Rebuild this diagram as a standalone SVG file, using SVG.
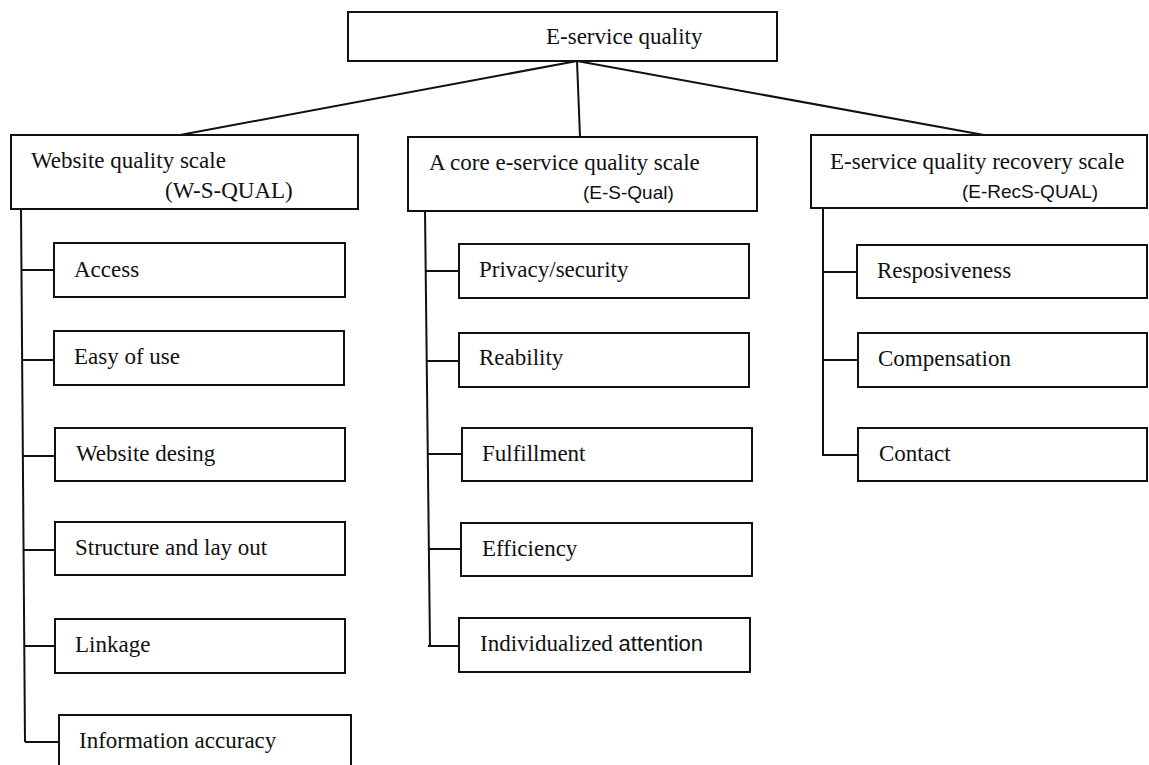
<svg xmlns="http://www.w3.org/2000/svg" width="1149" height="765" viewBox="0 0 1149 765">
  <style>
    .box { fill: #ffffff; stroke: #111111; stroke-width: 2; }
    .link { fill: none; stroke: #111111; stroke-width: 2; }
    .serif { font-family: "Liberation Serif", "Times New Roman", serif; font-size: 23px; fill: #111111; }
    .sans { font-family: "Liberation Sans", Arial, sans-serif; font-size: 19px; fill: #111111; }
    .sans.inline { font-size: 22px; }
  </style>
  <rect width="1149" height="765" fill="#ffffff"/>

  <!-- connectors -->
  <g id="connectors" class="link">
    <!-- root to the three scales -->
    <line x1="577" y1="61" x2="180" y2="135"/>
    <line x1="577" y1="61" x2="580" y2="137"/>
    <line x1="577" y1="61" x2="984" y2="135"/>
    <!-- W-S-QUAL branch -->
    <polyline points="21,209 25,742"/>
    <line x1="21" y1="270" x2="54" y2="270"/>
    <line x1="22" y1="360" x2="54" y2="360"/>
    <line x1="23" y1="456" x2="55" y2="456"/>
    <line x1="23" y1="550" x2="55" y2="550"/>
    <line x1="24" y1="646" x2="56" y2="646"/>
    <line x1="25" y1="742" x2="59" y2="742"/>
    <!-- E-S-Qual branch -->
    <polyline points="425,211 430,647"/>
    <line x1="426" y1="271" x2="459" y2="271"/>
    <line x1="427" y1="361" x2="459" y2="361"/>
    <line x1="428" y1="454" x2="462" y2="454"/>
    <line x1="429" y1="549" x2="461" y2="549"/>
    <line x1="428" y1="646" x2="459" y2="646"/>
    <!-- E-RecS-QUAL branch -->
    <polyline points="823,208 823,456"/>
    <line x1="823" y1="272" x2="857" y2="272"/>
    <line x1="823" y1="360" x2="858" y2="360"/>
    <line x1="823" y1="455" x2="858" y2="455"/>
  </g>

  <!-- root -->
  <g id="root">
    <rect class="box" x="348" y="12" width="429" height="49"/>
    <text class="serif" x="546" y="44">E-service quality</text>
  </g>

  <!-- scales -->
  <g id="wsqual">
    <rect class="box" x="11" y="135" width="347" height="74"/>
    <text class="serif" x="31" y="168">Website quality scale</text>
    <text class="serif" x="165" y="198">(W-S-QUAL)</text>
  </g>
  <g id="esqual">
    <rect class="box" x="408" y="137" width="349" height="74"/>
    <text class="serif" x="429" y="170">A core e-service quality scale</text>
    <text class="sans" x="583" y="199">(E-S-Qual)</text>
  </g>
  <g id="erecsqual">
    <rect class="box" x="811" y="135" width="336" height="73"/>
    <text class="serif" x="830" y="169">E-service quality recovery scale</text>
    <text class="sans" x="962" y="198">(E-RecS-QUAL)</text>
  </g>

  <!-- W-S-QUAL dimensions -->
  <g id="access">
    <rect class="box" x="54" y="243" width="291" height="54"/>
    <text class="serif" x="74" y="277">Access</text>
  </g>
  <g id="ease-of-use">
    <rect class="box" x="54" y="331" width="290" height="54"/>
    <text class="serif" x="74" y="364">Easy of use</text>
  </g>
  <g id="website-design">
    <rect class="box" x="55" y="428" width="290" height="53"/>
    <text class="serif" x="76" y="461">Website desing</text>
  </g>
  <g id="structure-layout">
    <rect class="box" x="55" y="522" width="290" height="53"/>
    <text class="serif" x="75" y="555">Structure and lay out</text>
  </g>
  <g id="linkage">
    <rect class="box" x="55" y="619" width="290" height="54"/>
    <text class="serif" x="75" y="652">Linkage</text>
  </g>
  <g id="information-accuracy">
    <rect class="box" x="59" y="715" width="292" height="60"/>
    <text class="serif" x="79" y="748">Information accuracy</text>
  </g>

  <!-- E-S-Qual dimensions -->
  <g id="privacy-security">
    <rect class="box" x="459" y="244" width="290" height="54"/>
    <text class="serif" x="479" y="277">Privacy/security</text>
  </g>
  <g id="reliability">
    <rect class="box" x="459" y="333" width="290" height="54"/>
    <text class="serif" x="479" y="365">Reability</text>
  </g>
  <g id="fulfillment">
    <rect class="box" x="462" y="428" width="290" height="53"/>
    <text class="serif" x="482" y="461">Fulfillment</text>
  </g>
  <g id="efficiency">
    <rect class="box" x="461" y="523" width="291" height="53"/>
    <text class="serif" x="482" y="556">Efficiency</text>
  </g>
  <g id="individualized-attention">
    <rect class="box" x="459" y="618" width="291" height="54"/>
    <text class="serif" x="480" y="651">Individualized <tspan class="sans inline">attention</tspan></text>
  </g>

  <!-- E-RecS-QUAL dimensions -->
  <g id="responsiveness">
    <rect class="box" x="857" y="245" width="290" height="53"/>
    <text class="serif" x="877" y="278">Resposiveness</text>
  </g>
  <g id="compensation">
    <rect class="box" x="858" y="333" width="289" height="54"/>
    <text class="serif" x="878" y="366">Compensation</text>
  </g>
  <g id="contact">
    <rect class="box" x="858" y="428" width="289" height="53"/>
    <text class="serif" x="879" y="461">Contact</text>
  </g>
</svg>
